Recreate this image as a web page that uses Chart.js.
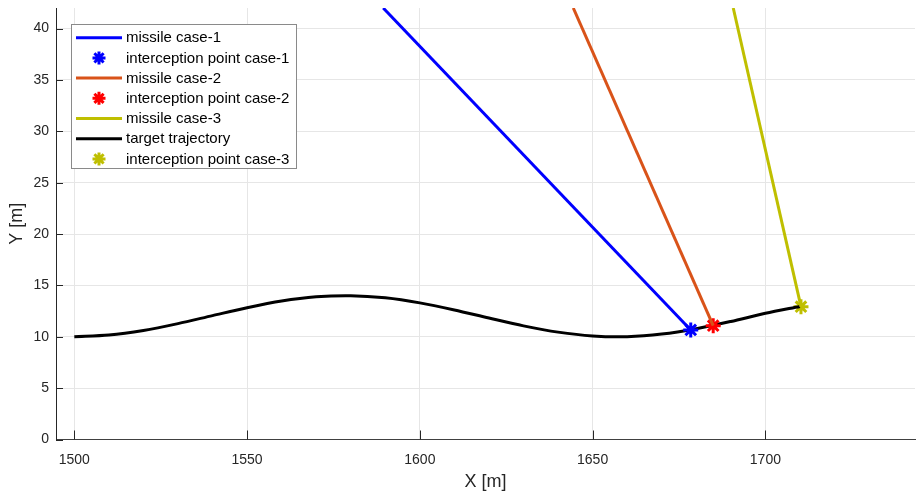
<!DOCTYPE html>
<html>
<head>
<meta charset="utf-8">
<script src="https://cdn.jsdelivr.net/npm/chart.js@4"></script>
<style>
	html, body { margin: 0; padding: 0; background: #fff; }
	canvas { display: block; }
</style>
</head>
<body>
<canvas id="plot" width="921" height="495"></canvas>
<script>
// values
const xTicks = [1500, 1550, 1600, 1650, 1700];
const yTicks = [0, 5, 10, 15, 20, 25, 30, 35, 40];

const targetX = [1500, 1510, 1520, 1530, 1540, 1550, 1560, 1570, 1580, 1590, 1600,
	1610, 1620, 1630, 1640, 1650, 1660, 1670, 1680, 1690, 1700, 1710];
const targetY = [10.00, 10.16, 10.61, 11.28, 12.06, 12.83, 13.48, 13.89, 14.00, 13.79, 13.30,
	12.61, 11.82, 11.06, 10.45, 10.08, 10.01, 10.26, 10.78, 11.49, 12.28, 12.95];

const missile1X = [1589.4, 1678.4];
const missile1Y = [42, 10.66];
const missile2X = [1644.4, 1684.9];
const missile2Y = [42, 11.08];
const missile3X = [1690.7, 1710.3];
const missile3Y = [42, 12.93];

const hit1 = [1678.4, 10.66];
const hit2 = [1684.9, 11.08];
const hit3 = [1710.3, 12.93];

const FONT = "'Liberation Sans', Arial, sans-serif";
const STAR_R = 7.5;
const STAR_W = 3;

const toPoints = (xs, ys) => xs.map((x, i) => ({ x: x, y: ys[i] }));

const lineSet = (label, xs, ys, color, tension) => ({
	label: label,
	data: toPoints(xs, ys),
	showLine: true,
	borderColor: color,
	backgroundColor: color,
	borderWidth: 3,
	pointRadius: 0,
	tension: tension || 0,
	kind: 'line'
});

const starSet = (label, p, color) => ({
	label: label,
	data: [{ x: p[0], y: p[1] }],
	showLine: false,
	pointStyle: 'star',
	pointRadius: STAR_R,
	pointBorderWidth: STAR_W,
	borderColor: color,
	backgroundColor: color,
	kind: 'star'
});

function drawStar(ctx, x, y, r, color) {
	ctx.save();
	ctx.strokeStyle = color;
	ctx.lineWidth = STAR_W;
	ctx.beginPath();
	for (let k = 0; k < 4; k++) {
		const a = k * Math.PI / 4;
		ctx.moveTo(x - r * Math.cos(a), y - r * Math.sin(a));
		ctx.lineTo(x + r * Math.cos(a), y + r * Math.sin(a));
	}
	ctx.stroke();
	ctx.restore();
}

// legend box inside the axes, like the MATLAB one
const boxLegend = {
	id: 'boxLegend',
	afterDraw(chart) {
		const ctx = chart.ctx;
		const left = 71, top = 24, right = 297, bottom = 169;
		ctx.save();
		ctx.fillStyle = '#fff';
		ctx.fillRect(left, top, right - left, bottom - top);
		ctx.strokeStyle = '#8a8a8a';
		ctx.lineWidth = 1;
		ctx.strokeRect(left + 0.5, top + 0.5, right - left - 1, bottom - top - 1);
		ctx.font = '15px ' + FONT;
		ctx.textBaseline = 'middle';
		chart.data.datasets.forEach((ds, i) => {
			const y = 37.7 + i * 20.2;
			if (ds.kind === 'line') {
				ctx.strokeStyle = ds.borderColor;
				ctx.lineWidth = 3;
				ctx.beginPath();
				ctx.moveTo(76, y);
				ctx.lineTo(122, y);
				ctx.stroke();
			} else {
				drawStar(ctx, 99, y, 6.5, ds.borderColor);
			}
			ctx.fillStyle = '#000';
			ctx.fillText(ds.label, 126, y + 0.5);
		});
		ctx.restore();
	}
};

// MATLAB style ticks pointing into the axes
const innerTicks = {
	id: 'innerTicks',
	afterDatasetsDraw(chart) {
		const { ctx, chartArea, scales } = chart;
		ctx.save();
		ctx.strokeStyle = '#262626';
		ctx.lineWidth = 1;
		ctx.beginPath();
		xTicks.forEach((t) => {
			const px = Math.round(scales.x.getPixelForValue(t)) + 0.5;
			ctx.moveTo(px, chartArea.bottom);
			ctx.lineTo(px, chartArea.bottom - 9);
		});
		yTicks.forEach((t) => {
			const py = Math.round(scales.y.getPixelForValue(t)) + 0.5;
			ctx.moveTo(chartArea.left, py);
			ctx.lineTo(chartArea.left + 7, py);
		});
		ctx.stroke();
		ctx.restore();
	}
};

const plainNumber = (v) => String(v);

new Chart(document.getElementById('plot'), {
	type: 'scatter',
	data: {
		datasets: [
			lineSet('missile case-1', missile1X, missile1Y, '#0000ff'),
			starSet('interception point case-1', hit1, '#0000ff'),
			lineSet('missile case-2', missile2X, missile2Y, '#d95319'),
			starSet('interception point case-2', hit2, '#ff0000'),
			lineSet('missile case-3', missile3X, missile3Y, '#bfbf00'),
			lineSet('target trajectory', targetX, targetY, '#000000', 0.3),
			starSet('interception point case-3', hit3, '#bfbf00')
		]
	},
	options: {
		responsive: false,
		animation: false,
		layout: { autoPadding: false, padding: { top: 8, right: 6, left: 0, bottom: 0 } },
		scales: {
			x: {
				type: 'linear',
				min: 1494.7,
				max: 1743.3,
				afterBuildTicks: (scale) => { scale.ticks = xTicks.map((v) => ({ value: v })); },
				afterFit: (scale) => {
					scale.height = 55.5;
					scale.paddingLeft = 0;
					scale.paddingRight = 0;
				},
				grid: { color: '#e6e6e6', drawTicks: false },
				border: { color: '#404040', width: 1 },
				ticks: {
					padding: 12,
					color: '#262626',
					font: { family: FONT, size: 14 },
					maxRotation: 0,
					callback: plainNumber
				},
				title: {
					display: true,
					text: 'X [m]',
					color: '#262626',
					font: { family: FONT, size: 18 },
					padding: { top: 0, bottom: 2 }
				}
			},
			y: {
				type: 'linear',
				min: 0,
				max: 42,
				afterBuildTicks: (scale) => { scale.ticks = yTicks.map((v) => ({ value: v })); },
				afterFit: (scale) => {
					scale.width = 56;
					scale.paddingTop = 0;
					scale.paddingBottom = 0;
				},
				grid: { color: '#e6e6e6', drawTicks: false },
				border: { color: '#262626', width: 1 },
				ticks: {
					padding: 7,
					color: '#262626',
					font: { family: FONT, size: 14 },
					callback: plainNumber
				},
				title: {
					display: true,
					text: 'Y [m]',
					color: '#262626',
					font: { family: FONT, size: 18 },
					padding: { top: 6, bottom: 0 }
				}
			}
		},
		plugins: {
			legend: { display: false },
			tooltip: { enabled: false }
		}
	},
	plugins: [innerTicks, boxLegend]
});
</script>
</body>
</html>
